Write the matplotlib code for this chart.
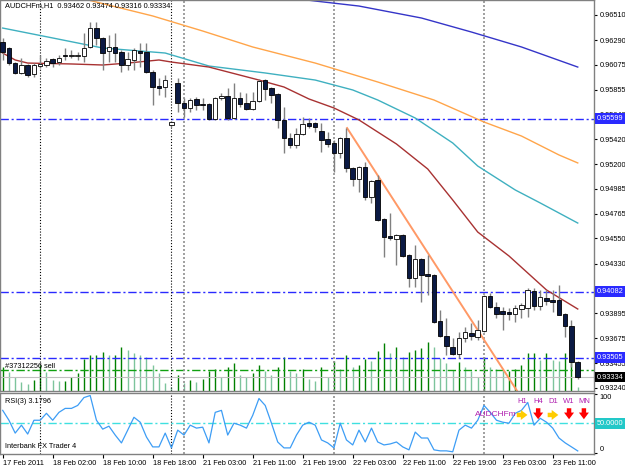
import matplotlib
matplotlib.use("Agg")
import matplotlib.pyplot as plt
import matplotlib.transforms as mtransforms

plt.rcParams['font.family'] = ['Liberation Sans', 'DejaVu Sans']
plt.rcParams['font.size'] = 5.3

# ---- values (AUDCHFm, H1) ----
symbol = "AUDCHFm,H1"
last_ohlc = "0.93462 0.93474 0.93316 0.93334"

time_labels = ["17 Feb 2011", "18 Feb 02:00", "18 Feb 10:00", "18 Feb 18:00",
               "21 Feb 03:00", "21 Feb 11:00", "21 Feb 19:00", "22 Feb 03:00",
               "22 Feb 11:00", "22 Feb 19:00", "23 Feb 03:00", "23 Feb 11:00"]
label_bars = [0, 8, 16, 24, 32, 40, 48, 56, 64, 72, 80, 88]

opens = [0.96273, 0.96220, 0.96088, 0.96001, 0.96071, 0.95992, 0.96062, 0.96071, 0.96124, 0.96097,
         0.96159, 0.96150, 0.96150, 0.96150, 0.96229, 0.96395, 0.96308, 0.96194, 0.96229, 0.96185,
         0.96071, 0.96115, 0.96194, 0.96185, 0.96010, 0.95887, 0.95878, 0.95545, 0.95913, 0.95738,
         0.95694, 0.95773, 0.95729, 0.95729, 0.95597, 0.95782, 0.95799, 0.95606, 0.95782, 0.95738,
         0.95685, 0.95755, 0.95939, 0.95869, 0.95817, 0.95589, 0.95431, 0.95369, 0.95466, 0.95562,
         0.95562, 0.95492, 0.95422, 0.95387, 0.95299, 0.95431, 0.95168, 0.95071, 0.95177, 0.94913,
         0.95062, 0.94720, 0.94571, 0.94545, 0.94580, 0.94405, 0.94203, 0.94369, 0.94238, 0.94229,
         0.93826, 0.93694, 0.93598, 0.93537, 0.93677, 0.93721, 0.93686, 0.93738, 0.94045, 0.93949,
         0.93914, 0.93905, 0.93887, 0.93931, 0.93940, 0.94089, 0.93957, 0.94028, 0.94010, 0.94010,
         0.93887, 0.93782, 0.93462]
highs = [0.96308, 0.96229, 0.96097, 0.96132, 0.96080, 0.96088, 0.96159, 0.96132, 0.96132, 0.96159,
         0.96220, 0.96203, 0.96185, 0.96352, 0.96448, 0.96448, 0.96315, 0.96330, 0.96352, 0.96203,
         0.96185, 0.96220, 0.96264, 0.96264, 0.96027, 0.95957, 0.95983, 0.95580, 0.95957, 0.95782,
         0.95782, 0.95790, 0.95782, 0.95738, 0.95790, 0.95825, 0.95869, 0.95913, 0.95834, 0.95825,
         0.95834, 0.95948, 0.95948, 0.95878, 0.95825, 0.95703, 0.95475, 0.95518, 0.95615, 0.95606,
         0.95571, 0.95562, 0.95483, 0.95413, 0.95440, 0.95518, 0.95177, 0.95185, 0.95220, 0.95062,
         0.95106, 0.94729, 0.94773, 0.94589, 0.94589, 0.94414, 0.94492, 0.94378, 0.94405, 0.94238,
         0.93922, 0.93852, 0.93677, 0.93729, 0.93773, 0.93808, 0.93835, 0.94054, 0.94071, 0.93992,
         0.93949, 0.93940, 0.93966, 0.93984, 0.94115, 0.94115, 0.94098, 0.94098, 0.94098, 0.94141,
         0.93896, 0.93835, 0.93474]
lows = [0.96115, 0.96071, 0.95992, 0.95992, 0.95966, 0.95966, 0.96045, 0.96053, 0.96053, 0.96071,
        0.96115, 0.96132, 0.96115, 0.96097, 0.96220, 0.96246, 0.96027, 0.96097, 0.96097, 0.96010,
        0.96027, 0.96027, 0.96053, 0.96001, 0.95720, 0.95808, 0.95790, 0.95527, 0.95659, 0.95615,
        0.95659, 0.95676, 0.95676, 0.95589, 0.95589, 0.95764, 0.95589, 0.95597, 0.95703, 0.95676,
        0.95676, 0.95746, 0.95764, 0.95738, 0.95518, 0.95299, 0.95343, 0.95343, 0.95457, 0.95518,
        0.95483, 0.95308, 0.95352, 0.95133, 0.95255, 0.95133, 0.95010, 0.94957, 0.94887, 0.94861,
        0.94703, 0.94387, 0.94540, 0.94317, 0.94387, 0.94124, 0.94124, 0.93992, 0.94054, 0.93810,
        0.93686, 0.93528, 0.93528, 0.93501, 0.93642, 0.93659, 0.93659, 0.93729, 0.93940, 0.93852,
        0.93747, 0.93835, 0.93817, 0.93852, 0.93861, 0.93922, 0.93922, 0.93966, 0.93905, 0.93875,
        0.93686, 0.93423, 0.93316]
closes = [0.96185, 0.96088, 0.96001, 0.96071, 0.95983, 0.96071, 0.96080, 0.96106, 0.96088, 0.96132,
          0.96150, 0.96159, 0.96159, 0.96220, 0.96395, 0.96308, 0.96176, 0.96229, 0.96176, 0.96071,
          0.96124, 0.96203, 0.96176, 0.96010, 0.95878, 0.95869, 0.95939, 0.95571, 0.95738, 0.95694,
          0.95764, 0.95720, 0.95720, 0.95597, 0.95782, 0.95799, 0.95606, 0.95782, 0.95729, 0.95685,
          0.95755, 0.95931, 0.95860, 0.95808, 0.95589, 0.95431, 0.95369, 0.95466, 0.95554, 0.95536,
          0.95527, 0.95413, 0.95378, 0.95299, 0.95431, 0.95168, 0.95071, 0.95177, 0.94913, 0.95054,
          0.94712, 0.94563, 0.94550, 0.94580, 0.94396, 0.94203, 0.94369, 0.94229, 0.94221, 0.93817,
          0.93694, 0.93607, 0.93537, 0.93677, 0.93729, 0.93694, 0.93747, 0.94045, 0.93949, 0.93887,
          0.93887, 0.93887, 0.93940, 0.93966, 0.94098, 0.93957, 0.94036, 0.94001, 0.93992, 0.93879,
          0.93782, 0.93462, 0.93334]
volumes = [240, 190, 140, 90, 70, 110, 260, 190, 110, 100, 100, 140, 180, 320, 360, 360, 390, 360,
           360, 440, 410, 380, 360, 340, 260, 180, 80, 40, 160, 80, 110, 90,
           120, 200, 220, 140, 240, 280, 160, 140, 180, 260, 200, 160, 240, 340, 200, 180, 220, 120,
           100, 240, 140, 300, 220, 360, 240, 260, 320, 300, 400,
           480, 380, 440, 340, 390, 410, 430, 490, 440, 330, 280, 210,
           290, 240, 200, 140, 340, 240, 220, 200, 200, 220, 260, 380, 380, 310, 380, 310, 300, 380,
           480, 40]
rsi = [71.7, 55, 33.3, 46.7, 31.7, 55, 55, 66.7, 55, 68.3, 75, 75, 80, 93.3, 96.7, 55, 40, 45, 30, 16.7,
       38.3, 60, 51.7, 26.7, 10, 10, 33.3, 8.3, 38.3, 30, 46.7, 41.7, 43.3, 16.7, 68.3, 71.7, 30, 50,
       46.7, 41.7, 63.3, 91.7, 80, 50, 18.3, 8.3, 8.3, 30, 46.7, 51.7, 46.7, 21.7, 16.7, 8.3, 50, 21.7,
       13.3, 38.3, 18.3, 41.7, 18.3, 13.3, 15, 18.3, 10, 5, 35, 25, 25, 5, 3.3, 3.3, 1.7, 38.3, 46.7,
       41.7, 55, 80, 68.3, 55, 51.7, 50, 66.7, 71.7, 85, 46.7, 58.3, 51.7, 41.7, 25, 16.7, 10, 3.1796]

# moving averages, read at a few bars
ma_blue_bars = [46, 50, 57, 67, 75, 83, 92]
ma_blue = [0.96660, 0.96632, 0.96588, 0.96483, 0.96360, 0.96229, 0.96053]
ma_orange_bars = [13, 24, 32, 40, 50, 60, 69, 77, 83, 89, 92]
ma_orange = [0.96650, 0.96501, 0.96369, 0.96229, 0.96088, 0.95922, 0.95764, 0.95571, 0.95448,
             0.95282, 0.95212]
ma_teal_bars = [0, 8, 16, 26, 33, 42, 50, 56, 60, 66, 72, 76, 82, 86, 89, 92]
ma_teal = [0.96395, 0.96308, 0.96220, 0.96176, 0.96062, 0.96001, 0.95939, 0.95852, 0.95764, 0.95606,
           0.95387, 0.95185, 0.94975, 0.94861, 0.94773, 0.94685]
ma_red_bars = [0, 2, 4, 11, 16, 20, 25, 27, 33, 41, 45, 49, 53, 57, 63, 68, 72, 76, 81, 87, 92]
ma_red = [0.96176, 0.96115, 0.96088, 0.96080, 0.96071, 0.96088, 0.96115, 0.96097, 0.96053, 0.95939,
          0.95878, 0.95773, 0.95694, 0.95589, 0.95378, 0.95159, 0.94887, 0.94606, 0.94396, 0.94098,
          0.93931]

trend_bars = [55.1, 84]
trend_prices = [0.95518, 0.93068]

blue_levels = [0.95599, 0.94082, 0.93505]
order_price = 0.93396
order_label = "#37312256 sell"
bid = 0.93334

black_vlines = [6, 27]
day_separators = [29, 53, 77]

price_ticks = [0.96510, 0.96290, 0.96075, 0.95855, 0.95640, 0.95420, 0.95200, 0.94985,
               0.94765, 0.94550, 0.94330, 0.94110, 0.93895, 0.93675, 0.93455, 0.93240]

tf_names = ["H1", "H4", "D1", "W1", "MN"]
tf_trend = ["flat", "down", "flat", "down", "down"]

# ---- figure ----
W, H = 625, 469
fig = plt.figure(figsize=(W / 100, H / 100), dpi=100)
fig.patch.set_facecolor("white")


def box(x0, y0, x1, y1):
    return [x0 / W, 1 - y1 / H, (x1 - x0) / W, (y1 - y0) / H]


ax = fig.add_axes(box(0, 0, 594, 391))
rax = fig.add_axes(box(0, 393, 594, 454))
bars = list(range(len(opens)))

for a in (ax, rax):
    a.set_xlim(-0.43, 94.6)
    for s in a.spines.values():
        s.set_color("#808080")
        s.set_linewidth(1)
ax.set_ylim(0.93212, 0.96641)

# volumes behind the candles
vax = ax.twinx()
vax.set_zorder(ax.get_zorder() - 1)
ax.patch.set_visible(False)
vol_colors = ["#008000" if i == 0 or volumes[i] >= volumes[i - 1] else "#7cc49c" for i in bars]
vax.vlines(bars, 0, volumes, colors=vol_colors, lw=1)
vax.set_ylim(0, 3900)
vax.axis("off")

# levels and lines
ydata = mtransforms.blended_transform_factory(ax.transAxes, ax.transData)
for lv in blue_levels:
    ax.axhline(lv, color="#2a2aff", lw=1, ls=(0, (6, 2, 1.5, 2)), zorder=1)
ax.axhline(order_price, color="#10a010", lw=1, ls=(0, (6, 2, 1.5, 2)), zorder=1)
ax.axhline(bid, color="#c0c0c0", lw=0.8, zorder=1)
for a in (ax, rax):
    for v in black_vlines:
        a.axvline(v, color="black", lw=0.8, ls=(0, (1, 1.6)), zorder=1)
    for v in day_separators:
        a.axvline(v, color="#909090", lw=1.2, ls=(0, (1.2, 1.2)), zorder=1)

ax.plot(ma_blue_bars, ma_blue, color="#3535c8", lw=1, zorder=2)
ax.plot(ma_orange_bars, ma_orange, color="#ffa54a", lw=1, zorder=2)
ax.plot(ma_teal_bars, ma_teal, color="#3fb0c0", lw=1, zorder=2)
ax.plot(ma_red_bars, ma_red, color="#a83232", lw=1, zorder=2)
ax.plot(trend_bars, trend_prices, color="#ff9966", lw=1.4, zorder=2)

# candles
ax.vlines(bars, lows, highs, colors="#808080", lw=1, zorder=3)
body_low = [min(o, c) for o, c in zip(opens, closes)]
body_h = [abs(c - o) for o, c in zip(opens, closes)]
body_col = ["white" if c >= o else "#0b1a44" for o, c in zip(opens, closes)]
ax.bar(bars, body_h, bottom=body_low, width=0.72, color=body_col,
       edgecolor="black", linewidth=0.6, zorder=4)

# axis labels on the right
ax.set_xticks([])
ax.yaxis.tick_right()
ax.set_yticks(price_ticks)
ax.set_yticklabels([f"{p:.5f}" for p in price_ticks])
ax.tick_params(axis="y", length=2.5, width=0.8, pad=1.5, colors="black")


def tag(a, text, y, fc):
    tr = mtransforms.blended_transform_factory(a.transAxes, a.transData)
    a.annotate(text, xy=(1, y), xycoords=tr, xytext=(2.2, 0), textcoords="offset points",
               ha="left", va="center", color="white", annotation_clip=False, zorder=10,
               bbox=dict(boxstyle="square,pad=0.25", fc=fc, ec="none"))


for lv in blue_levels:
    tag(ax, f"{lv:.5f}", lv, "#2a2aff")
tag(ax, f"{bid:.5f}", bid, "black")

ax.text(0.008, 0.996, f"{symbol}  {last_ohlc}", transform=ax.transAxes, va="top", ha="left")
ax.text(0.008, order_price, order_label, transform=ydata, va="bottom", ha="left")

# RSI panel
rax.plot(bars, rsi, color="#3d9df5", lw=0.9, zorder=3)
rax.axhline(50, color="#3fe0e0", lw=1, ls=(0, (6, 2, 1.5, 2)), zorder=2)
rax.set_ylim(-2, 101)
rax.yaxis.tick_right()
rax.set_yticks([100, 0])
rax.set_yticklabels(["100", "0"])
rlabels = rax.get_yticklabels()
rlabels[0].set_va("top")
rlabels[1].set_va("bottom")
rax.tick_params(axis="y", length=2.5, width=0.8, pad=1.5, colors="black")
tag(rax, "50.0000", 50, "#22c8c8")

rax.set_xticks(label_bars)
rax.set_xticklabels(time_labels, ha="left")
rax.tick_params(axis="x", length=3, width=0.8, pad=1.5, colors="black")

rax.text(0.008, 0.86, f"RSI(3) {rsi[-1]:.4f}", transform=rax.transAxes, va="center", ha="left")
rax.text(0.008, 0.12, "Interbank FX Trader 4", transform=rax.transAxes, va="center", ha="left")

# multi-timeframe trend labels with arrows
rax.text(0.800, 0.64, symbol.split(",")[0], transform=rax.transAxes, color="#b020b0",
         ha="left", va="center", fontsize=6)
tf_x = [0.879, 0.906, 0.931, 0.958, 0.983]
for name, trend, x in zip(tf_names, tf_trend, tf_x):
    rax.text(x, 0.86, name, transform=rax.transAxes, color="#b020b0", ha="center", va="center",
             fontsize=5.5)
    if trend == "down":
        start, end, col = (x, 0.75), (x, 0.57), "#ff0000"
    else:
        start, end, col = (x - 0.009, 0.64), (x + 0.009, 0.64), "#ffcc00"
    rax.annotate("", xy=end, xytext=start, xycoords=rax.transAxes, textcoords=rax.transAxes,
                 arrowprops=dict(arrowstyle="simple,head_width=0.9,head_length=0.6,tail_width=0.4",
                                 mutation_scale=8, color=col, lw=0, shrinkA=0, shrinkB=0))

fig.savefig("out.png", dpi=100, facecolor="white")
